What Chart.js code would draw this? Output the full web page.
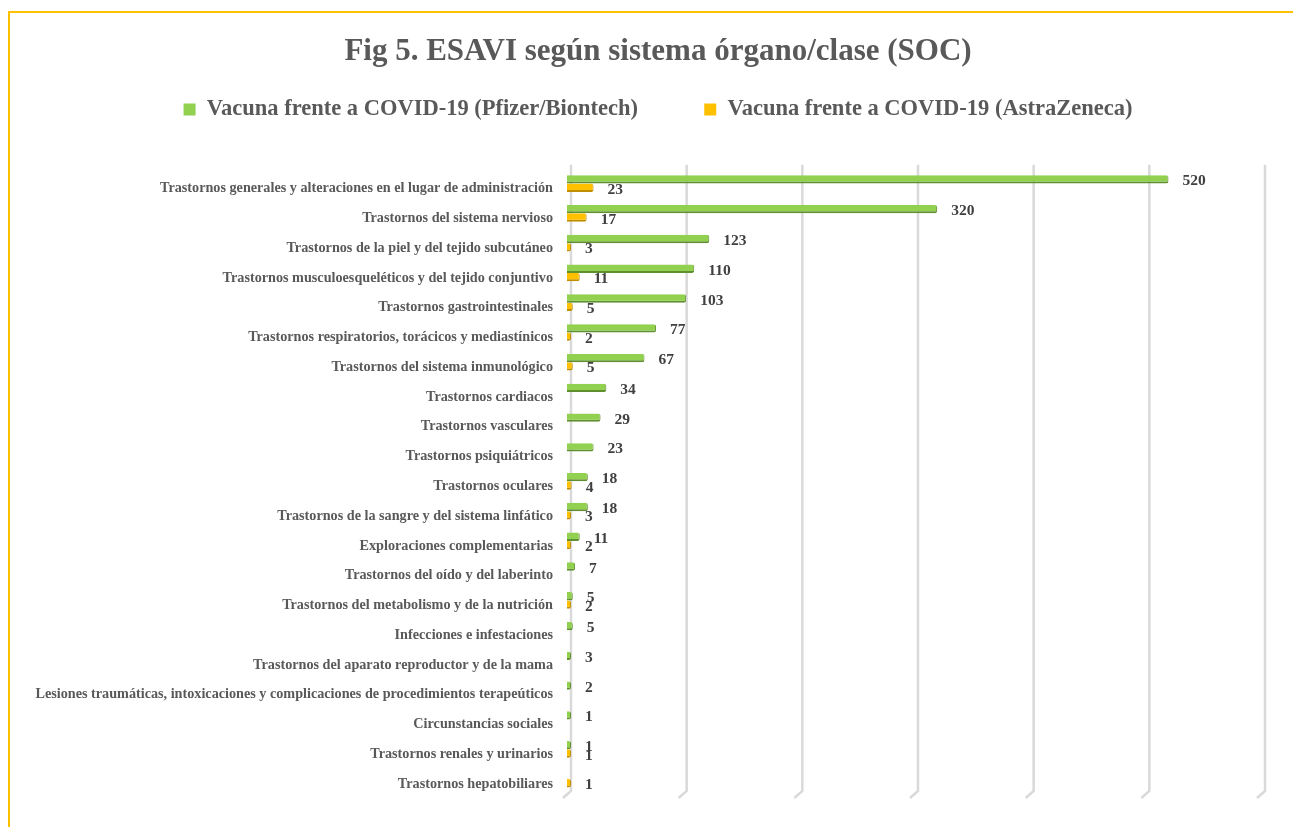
<!DOCTYPE html>
<html>
<head>
<meta charset="utf-8">
<script src="https://cdn.jsdelivr.net/npm/chart.js@4/dist/chart.umd.min.js"></script>
<style>
  html, body { margin: 0; padding: 0; background: #fff; overflow: hidden; }
  .frame {
    position: absolute; left: 8px; top: 11px; width: 1310px; height: 830px;
    border-left: 2px solid #ffc000; border-top: 2px solid #ffc000;
  }
  #chart { position: absolute; left: 0; top: 0; }
</style>
</head>
<body>
<div class="frame">
  <canvas id="chart" width="1296" height="814"></canvas>
</div>
<script>
const categories = [
  'Trastornos generales y alteraciones en el lugar de administración',
  'Trastornos del sistema nervioso',
  'Trastornos de la piel y del tejido subcutáneo',
  'Trastornos musculoesqueléticos y del tejido conjuntivo',
  'Trastornos gastrointestinales',
  'Trastornos respiratorios, torácicos y mediastínicos',
  'Trastornos del sistema inmunológico',
  'Trastornos cardiacos',
  'Trastornos vasculares',
  'Trastornos psiquiátricos',
  'Trastornos oculares',
  'Trastornos de la sangre y del sistema linfático',
  'Exploraciones complementarias',
  'Trastornos del oído y del laberinto',
  'Trastornos del metabolismo y de la nutrición',
  'Infecciones e infestaciones',
  'Trastornos del aparato reproductor y de la mama',
  'Lesiones traumáticas, intoxicaciones y complicaciones de procedimientos terapeúticos',
  'Circunstancias sociales',
  'Trastornos renales y urinarios',
  'Trastornos hepatobiliares'
];
const pfizer = [520, 320, 123, 110, 103, 77, 67, 34, 29, 23, 18, 18, 11, 7, 5, 5, 3, 2, 1, 1, null];
const astra = [23, 17, 3, 11, 5, 2, 5, null, null, null, 4, 3, 2, null, 2, null, null, null, null, 1, 1];
const xTicks = [0, 100, 200, 300, 400, 500, 600];

const grey = '#595959';
const serif = "'Liberation Serif', 'DejaVu Serif', serif";

// gridlines drawn a little to the right, with the small 3D foot at the bottom
const depthGrid = {
  id: 'depthGrid',
  beforeDatasetsDraw(chart) {
    const { ctx, chartArea, scales } = chart;
    ctx.save();
    ctx.strokeStyle = '#d9d9d9';
    ctx.lineWidth = 2.5;
    xTicks.forEach(v => {
      const x = scales.x.getPixelForValue(v) + 4;
      ctx.beginPath();
      ctx.moveTo(x, chartArea.top - 4);
      ctx.lineTo(x, chartArea.bottom - 3);
      ctx.lineTo(x - 8, chartArea.bottom + 4);
      ctx.stroke();
    });
    ctx.restore();
  }
};

// value labels next to each bar
const valueLabels = {
  id: 'valueLabels',
  afterDatasetsDraw(chart) {
    const { ctx } = chart;
    ctx.save();
    ctx.font = "bold 15.5px " + serif;
    ctx.fillStyle = '#404040';
    ctx.textAlign = 'left';
    ctx.textBaseline = 'middle';
    chart.data.datasets.forEach((ds, i) => {
      chart.getDatasetMeta(i).data.forEach((bar, j) => {
        const v = ds.data[j];
        if (v == null) return;
        ctx.fillText(String(v), bar.x + 14, bar.y + 2);
      });
    });
    ctx.restore();
  }
};

new Chart(document.getElementById('chart'), {
  type: 'bar',
  data: {
    labels: categories,
    datasets: [
      {
        label: 'Vacuna frente a COVID-19 (Pfizer/Biontech)',
        data: pfizer,
        backgroundColor: '#92d050',
        borderColor: '#5f8f2e',
        borderWidth: { top: 0, right: 1, bottom: 2, left: 0 },
        borderRadius: { topRight: 2, bottomRight: 2 },
        borderSkipped: 'start'
      },
      {
        label: 'Vacuna frente a COVID-19 (AstraZeneca)',
        data: astra,
        backgroundColor: '#ffc000',
        borderColor: '#c08f00',
        borderWidth: { top: 0, right: 1, bottom: 2, left: 0 },
        borderRadius: { topRight: 2, bottomRight: 2 },
        borderSkipped: 'start'
      }
    ]
  },
  options: {
    indexAxis: 'y',
    responsive: false,
    animation: false,
    categoryPercentage: 0.56,
    barPercentage: 1,
    minBarLength: 4,
    layout: { padding: { left: 0, right: 0, top: 0, bottom: 33 } },
    plugins: {
      title: {
        display: true,
        text: 'Fig 5. ESAVI según sistema órgano/clase (SOC)',
        color: grey,
        font: { family: serif, size: 31, weight: 'bold' },
        padding: { top: 20, bottom: 18 }
      },
      legend: {
        position: 'top',
        labels: {
          color: grey,
          font: { family: serif, size: 22.5, weight: 'bold' },
          boxWidth: 12,
          boxHeight: 12,
          padding: 10,
          generateLabels(chart) {
            return chart.data.datasets.map((ds, i) => ({
              text: ds.label + (i === 0 ? '\u2003\u2003\u2002' : ''),
              fillStyle: ds.backgroundColor,
              strokeStyle: ds.backgroundColor,
              lineWidth: 0,
              hidden: false,
              datasetIndex: i,
              fontColor: grey
            }));
          }
        }
      },
      tooltip: { enabled: false }
    },
    scales: {
      x: {
        position: 'top',
        min: 0,
        max: 600,
        ticks: { display: false, stepSize: 100 },
        grid: { display: false, drawTicks: false },
        border: { display: false },
        afterFit(scale) { scale.height = 38; }
      },
      y: {
        ticks: {
          color: grey,
          font: { family: serif, size: 14.2, weight: 'bold' },
          padding: 14,
          labelOffset: 5,
          autoSkip: false
        },
        grid: { display: false, drawTicks: false },
        border: { display: false },
        afterFit(scale) { scale.width = 557; }
      },
      // empty right-hand axis that only keeps room at the right edge
      yRight: {
        type: 'category',
        position: 'right',
        ticks: { display: false },
        grid: { display: false, drawTicks: false },
        border: { display: false },
        afterFit(scale) { scale.width = 45; }
      }
    }
  },
  plugins: [depthGrid, valueLabels]
});
</script>
</body>
</html>
